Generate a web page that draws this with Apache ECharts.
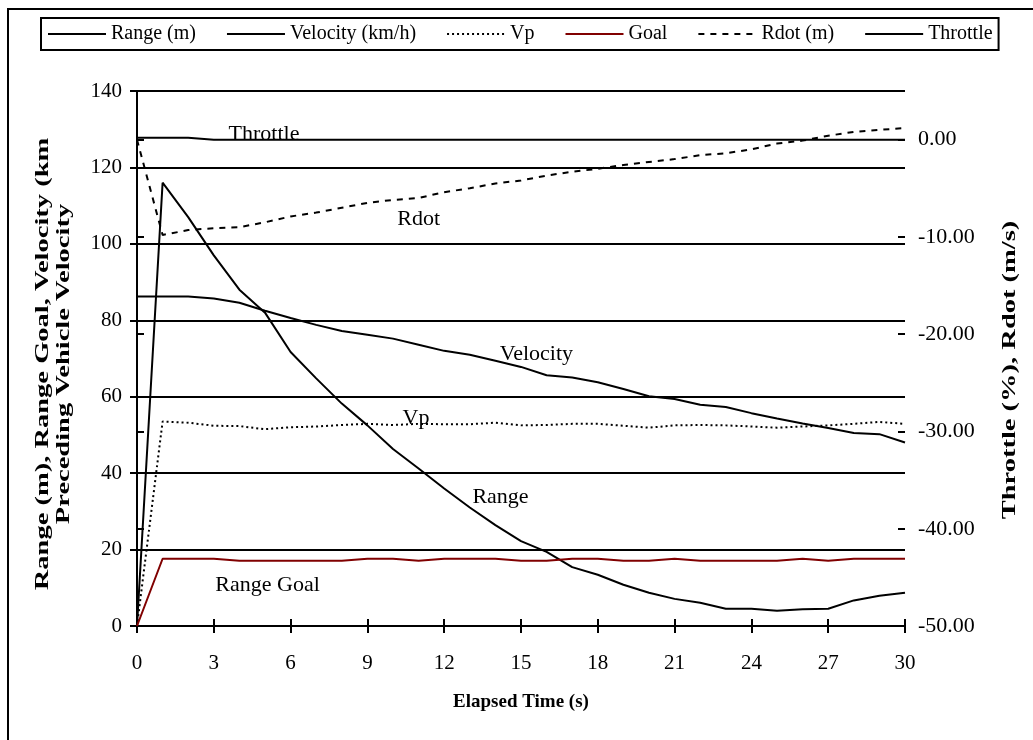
<!DOCTYPE html>
<html>
<head>
<meta charset="utf-8">
<script src="https://cdn.jsdelivr.net/npm/echarts@6/dist/echarts.min.js"></script>
<style>
  html, body { margin: 0; padding: 0; background: #fff; }
  #chart { width: 1033px; height: 740px; }
</style>
</head>
<body>
<div id="chart"></div>
<script>
// Elapsed time, one sample per second
const time = [0,1,2,3,4,5,6,7,8,9,10,11,12,13,14,15,16,17,18,19,20,21,22,23,24,25,26,27,28,29,30];

// Left axis series
const range    = [0,116,107,97,88,82,71.7,64.8,58.2,52.5,46.3,41.2,36,31,26.4,22.2,19.4,15.4,13.4,10.8,8.7,7.1,6.1,4.5,4.5,4.0,4.4,4.5,6.7,7.9,8.7];
const velocity = [86.2,86.2,86.2,85.7,84.6,82.5,80.6,78.8,77.2,76.2,75.2,73.6,72.0,71.0,69.4,67.8,65.6,65.0,63.8,62.0,60.1,59.4,57.9,57.3,55.7,54.3,53.0,51.8,50.5,50.2,48.0];
const vp       = [0,53.5,53.2,52.4,52.3,51.5,52.0,52.2,52.6,52.9,52.6,52.9,52.8,52.8,53.2,52.5,52.6,52.9,52.9,52.4,51.9,52.5,52.6,52.5,52.2,51.9,52.2,52.5,52.9,53.4,52.9];
const goal     = [0,17.6,17.6,17.6,17.1,17.1,17.1,17.1,17.1,17.6,17.6,17.1,17.6,17.6,17.6,17.1,17.1,17.6,17.6,17.1,17.1,17.6,17.1,17.1,17.1,17.1,17.6,17.1,17.6,17.6,17.6];

// Right axis series
const rdot     = [0,-9.8,-9.3,-9.1,-9.0,-8.5,-7.9,-7.5,-7.0,-6.5,-6.2,-6.0,-5.4,-5.0,-4.5,-4.2,-3.7,-3.3,-3.0,-2.6,-2.3,-2.0,-1.6,-1.4,-1.0,-0.4,-0.1,0.4,0.8,1.0,1.2];
const throttle = [0.2,0.2,0.2,0,0,0,0,0,0,0,0,0,0,0,0,0,0,0,0,0,0,0,0,0,0,0,0,0,0,0,0];

// Tick values
const xTicks     = [0,3,6,9,12,15,18,21,24,27,30];
const leftTicks  = [0,20,40,60,80,100,120,140];
const rightTicks = [-50,-40,-30,-20,-10,0];

// Axis titles
const leftTitle  = 'Range (m), Range Goal, Velocity (km\nPreceding Vehicle Velocity';
const rightTitle = 'Throttle (%), Rdot (m/s)';
const xTitle     = 'Elapsed Time (s)';

// In-plot captions: [text, time, value]
const notes = {
  range:    ['Range', 14.2, 33.8],
  velocity: ['Velocity', 15.6, 71],
  vp:       ['Vp', 10.9, 54.5],
  goal:     ['Range Goal', 5.1, 10.8],
  rdot:     ['Rdot', 11.0, -8.2],
  throttle: ['Throttle', 4.96, 0.6]
};

const FONT = "'Liberation Serif', 'Times New Roman', serif";
const pairs = arr => time.map((t, i) => [t, arr[i]]);

function caption(key) {
  const n = notes[key];
  return {
    symbol: 'circle',
    symbolSize: 1,
    silent: true,
    itemStyle: { color: 'rgba(0,0,0,0)' },
    data: [{ coord: [n[1], n[2]] }],
    label: {
      show: true, position: 'inside', formatter: n[0],
      fontFamily: FONT, fontSize: 22, color: '#000'
    }
  };
}

function line(name, arr, axis, color, type, key) {
  return {
    name, type: 'line', data: pairs(arr), yAxisIndex: axis,
    symbol: 'none', animation: false,
    lineStyle: { color, width: 2, type },
    itemStyle: { color },
    markPoint: caption(key)
  };
}

// Vertical titles, drawn bottom-to-top and elongated along the reading direction
function verticalTitle(text, x, y) {
  return {
    type: 'text', silent: true,
    x, y, rotation: Math.PI / 2, scaleX: 1.5, scaleY: 1,
    style: {
      text, fill: '#000',
      fontFamily: FONT, fontSize: 19, fontWeight: 'bold',
      lineHeight: 21, align: 'center', verticalAlign: 'middle'
    }
  };
}

const chart = echarts.init(document.getElementById('chart'), null, { renderer: 'canvas' });

chart.setOption({
  backgroundColor: '#fff',
  animation: false,
  graphic: [
    {
      type: 'rect', silent: true,
      shape: { x: 8, y: 9, width: 1060, height: 780 },
      style: { fill: 'none', stroke: '#000', lineWidth: 2 }
    },
    verticalTitle(leftTitle, 54, 364),
    verticalTitle(rightTitle, 1010, 370)
  ],
  legend: {
    left: 41, top: 18,
    padding: [6, 6, 6, 6],
    borderColor: '#000', borderWidth: 2, borderRadius: 0,
    itemWidth: 58, itemHeight: 14, itemGap: 30,
    itemStyle: { opacity: 0 },
    textStyle: { fontFamily: FONT, fontSize: 20, color: '#000' },
    data: ['Range (m)', 'Velocity (km/h)', 'Vp', 'Goal', 'Rdot (m)', 'Throttle']
  },
  grid: { left: 137, right: 128, top: 91, bottom: 114, containLabel: false },
  xAxis: [{
    type: 'value', min: 0, max: 30, interval: 3,
    name: xTitle, nameLocation: 'middle', nameGap: 67,
    nameTextStyle: { fontFamily: FONT, fontSize: 19, fontWeight: 'bold', color: '#000' },
    axisLine: { onZero: false, lineStyle: { color: '#000', width: 2 } },
    axisTick: { length: 7, lineStyle: { color: '#000', width: 2 } },
    axisLabel: { margin: 27, fontFamily: FONT, fontSize: 21, color: '#000',
                 customValues: xTicks },
    splitLine: { show: false }
  }, {
    type: 'value', min: 0, max: 30, interval: 3, position: 'bottom',
    axisLine: { show: false },
    axisTick: { inside: true, length: 7, lineStyle: { color: '#000', width: 2 } },
    axisLabel: { show: false },
    splitLine: { show: false }
  }],
  yAxis: [{
    type: 'value', min: 0, max: 140, interval: 20, position: 'left',
    axisLine: { show: true, lineStyle: { color: '#000', width: 2 } },
    axisTick: { show: true, length: 7, lineStyle: { color: '#000', width: 2 } },
    axisLabel: { margin: 15, fontFamily: FONT, fontSize: 21, color: '#000',
                 customValues: leftTicks },
    splitLine: { show: true, lineStyle: { color: '#000', width: 2 } }
  }, {
    type: 'value', min: -50, max: 5, interval: 10, position: 'right',
    axisLine: { show: true, lineStyle: { color: '#000', width: 2 } },
    axisTick: { show: true, length: 7, customValues: rightTicks,
                lineStyle: { color: '#000', width: 2 } },
    axisLabel: { margin: 13, fontFamily: FONT, fontSize: 22, color: '#000',
                 customValues: rightTicks, formatter: v => v.toFixed(2) },
    splitLine: { show: false }
  }, {
    type: 'value', min: -50, max: 5, interval: 10, position: 'right',
    axisLine: { show: false },
    axisTick: { show: true, inside: true, length: 7, customValues: rightTicks,
                lineStyle: { color: '#000', width: 2 } },
    axisLabel: { show: false },
    splitLine: { show: false }
  }],
  series: [
    line('Range (m)', range, 0, '#000', 'solid', 'range'),
    line('Velocity (km/h)', velocity, 0, '#000', 'solid', 'velocity'),
    line('Vp', vp, 0, '#000', [2, 3], 'vp'),
    line('Goal', goal, 0, '#800000', 'solid', 'goal'),
    line('Rdot (m)', rdot, 1, '#000', [6, 6], 'rdot'),
    line('Throttle', throttle, 1, '#000', 'solid', 'throttle')
  ]
});
</script>
</body>
</html>
